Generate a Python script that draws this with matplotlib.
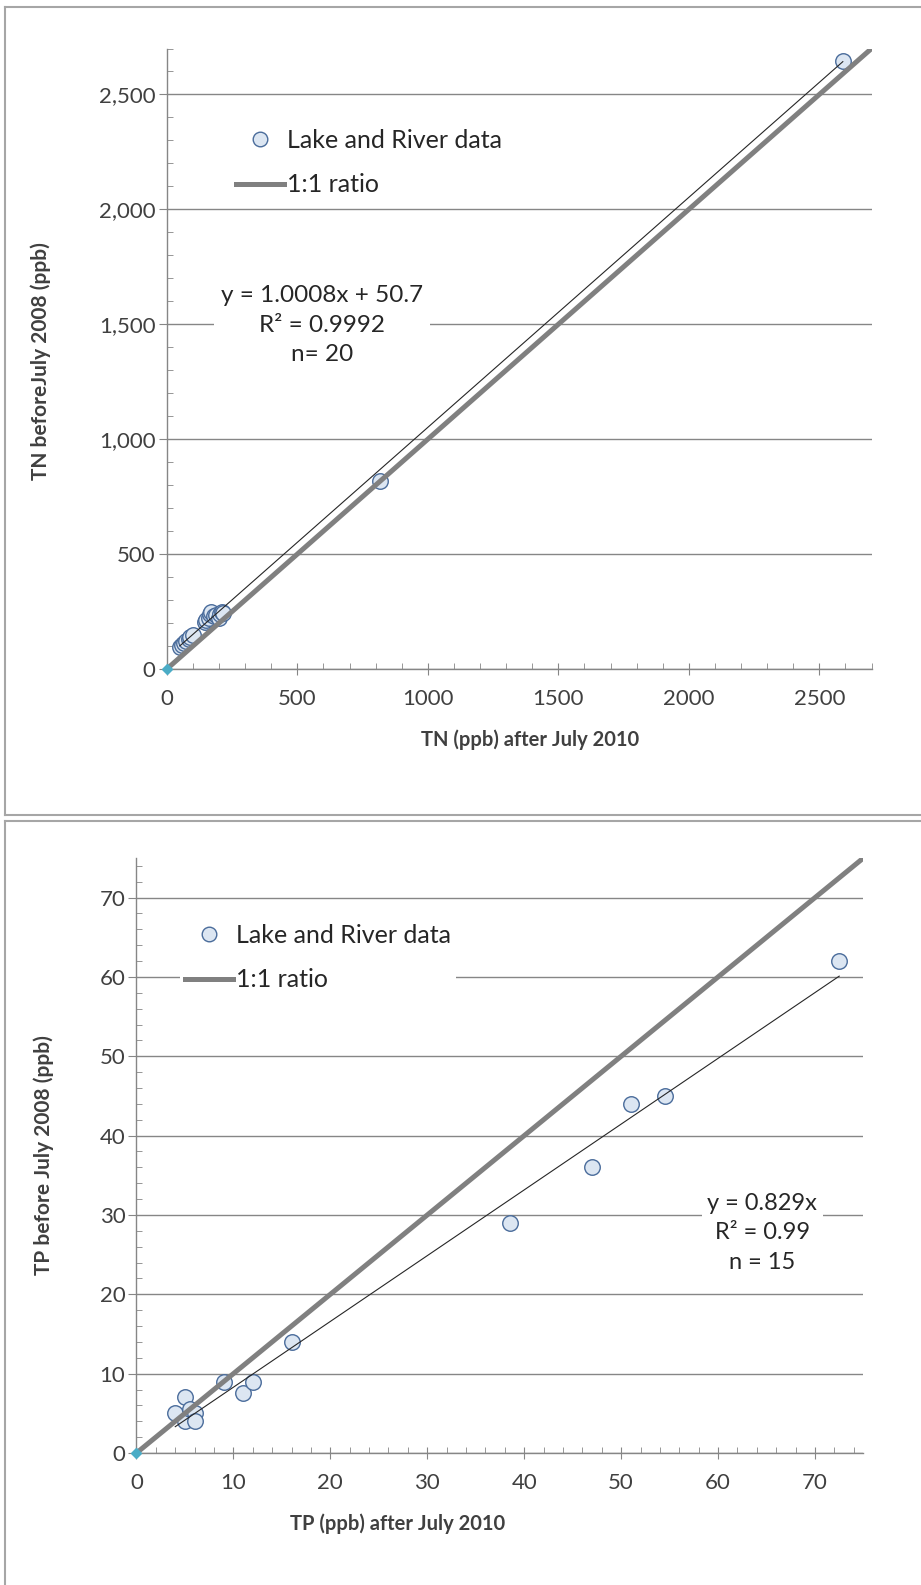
import matplotlib.pyplot as plt
import numpy as np
from matplotlib.lines import Line2D
from matplotlib.ticker import MultipleLocator, FuncFormatter

plt.rcParams['font.family'] = ['Lato', 'DejaVu Sans']

# TN chart data (ppb)
tn_after = [50, 60, 65, 75, 85, 90, 100, 145, 150, 160, 165, 170, 180, 190, 200, 205, 210, 215, 815, 2590]
tn_before = [95, 105, 115, 120, 130, 140, 150, 205, 215, 220, 240, 250, 230, 235, 220, 240, 250, 245, 820, 2645]
tn_slope, tn_icpt = 1.0008, 50.7
tn_ticks_x = [0, 500, 1000, 1500, 2000, 2500]
tn_ticks_y = [0, 500, 1000, 1500, 2000, 2500]

# TP chart data (ppb)
tp_after = [4, 5, 5, 5.5, 6, 6, 9, 11, 12, 16, 38.5, 47, 51, 54.5, 72.5]
tp_before = [5, 7, 4, 5.5, 5, 4, 9, 7.5, 9, 14, 29, 36, 44, 45, 62]
tp_slope = 0.829
tp_ticks = [0, 10, 20, 30, 40, 50, 60, 70]

origin = [0]

W, H = 921, 1585
fig = plt.figure(figsize=(W / 100, H / 100), dpi=100)

grey = '#868686'
txt = '#404040'


# panel borders: only top, left, bottom edges show (pixel coords)
def px_line(x0, y0, x1, y1):
    fig.lines.append(Line2D([x0 / W, x1 / W], [1 - y0 / H, 1 - y1 / H], transform=fig.transFigure,
                            color='#a6a6a6', lw=1.5))

px_line(5, 7, 921, 7)
px_line(5, 7, 5, 815)
px_line(5, 815, 921, 815)
px_line(5, 821, 921, 821)
px_line(5, 821, 5, 1585)


def style_axes(ax, xmax, ymax, minor, comma_y):
    ax.set_xlim(0, xmax)
    ax.set_ylim(0, ymax)
    for s in ['top', 'right']:
        ax.spines[s].set_visible(False)
    for s in ['left', 'bottom']:
        ax.spines[s].set_color(grey)
        ax.spines[s].set_linewidth(1)
    ax.xaxis.set_minor_locator(MultipleLocator(minor))
    ax.yaxis.set_minor_locator(MultipleLocator(minor))
    ax.tick_params(axis='x', which='major', direction='inout', length=9, color=grey, pad=10,
                   labelsize=16, labelcolor=txt)
    ax.tick_params(axis='x', which='minor', direction='in', length=4.5, color=grey)
    ax.tick_params(axis='y', which='major', direction='out', length=6, color=grey, pad=2,
                   labelsize=16, labelcolor=txt)
    ax.tick_params(axis='y', which='minor', direction='in', length=4.5, color=grey)
    if comma_y:
        ax.yaxis.set_major_formatter(FuncFormatter(lambda v, p: f'{int(v):,}'))
    ax.grid(axis='y', which='major', color=grey, lw=1)
    ax.set_axisbelow(True)


def legend(ax, x_px, y_px):
    handles = [
        Line2D([], [], ls='none', marker='o', ms=10.5, mfc='#dce6f2', mec='#4a6c9b', mew=1),
        Line2D([], [], color='#808080', lw=3.6),
    ]
    leg = ax.legend(handles, ['Lake and River data', '1:1 ratio'], loc='upper left',
                    bbox_to_anchor=(x_px / W, 1 - y_px / H), bbox_transform=fig.transFigure,
                    fontsize=18, handlelength=1.95, handletextpad=0.1, labelspacing=0.85,
                    borderpad=0.2, borderaxespad=0, frameon=True, fancybox=False)
    leg.get_frame().set_facecolor('white')
    leg.get_frame().set_edgecolor('none')
    leg.get_frame().set_alpha(1)
    for t in leg.get_texts():
        t.set_color('#262626')


# ---- TN ----
ax1 = fig.add_axes([0.1811, 0.5779, 0.7652, 0.3915])
style_axes(ax1, 2700, 2700, 100, True)
ax1.set_xticks(tn_ticks_x)
ax1.set_yticks(tn_ticks_y)
ax1.scatter(tn_after, tn_before, s=125, facecolor='#dce6f2', edgecolor='#4a6c9b', lw=1, zorder=3)
xx = np.array([0, 2700])
ax1.plot(xx, xx, color='#808080', lw=3.6, zorder=4, solid_capstyle='butt')
xf = np.array([min(tn_after), max(tn_after)])
ax1.plot(xf, tn_slope * xf + tn_icpt, color='#262626', lw=0.8, zorder=5)
ax1.plot(origin, origin, marker='D', ms=5, color='#4bacc6', ls='none', zorder=6, clip_on=False)
ax1.text(0.22, 0.554, 'y = 1.0008x + 50.7\nR\u00b2 = 0.9992\nn= 20', transform=ax1.transAxes,
         ha='center', va='center', fontsize=17.5, color='#262626', linespacing=1.5,
         bbox=dict(facecolor='white', edgecolor='none', pad=5), zorder=7)
legend(ax1, 230.5, 124)
fig.text(40.5 / W, 1 - 361 / H, 'TN beforeJuly 2008 (ppb)', rotation=90, ha='center', va='center',
         fontsize=15, fontweight='bold', color=txt)
fig.text(530 / W, 1 - 740 / H, 'TN (ppb) after July 2010', ha='center', va='center',
         fontsize=14.5, fontweight='bold', color=txt)

# ---- TP ----
ax2 = fig.add_axes([0.1482, 0.0833, 0.7893, 0.3754])
style_axes(ax2, 75, 75, 2, False)
ax2.set_xticks(tp_ticks)
ax2.set_yticks(tp_ticks)
ax2.scatter(tp_after, tp_before, s=125, facecolor='#dce6f2', edgecolor='#4a6c9b', lw=1, zorder=3)
xx = np.array([0, 75])
ax2.plot(xx, xx, color='#808080', lw=3.6, zorder=4, solid_capstyle='butt')
xf = np.array([min(tp_after), max(tp_after)])
ax2.plot(xf, tp_slope * xf, color='#262626', lw=0.8, zorder=5)
ax2.plot(origin, origin, marker='D', ms=5, color='#4bacc6', ls='none', zorder=6, clip_on=False)
ax2.text(0.861, 0.37, 'y = 0.829x\nR\u00b2 = 0.99\nn = 15', transform=ax2.transAxes,
         ha='center', va='center', fontsize=17, color='#262626', linespacing=1.5,
         bbox=dict(facecolor='white', edgecolor='none', pad=4), zorder=7)
legend(ax2, 179.5, 919)
fig.text(43.5 / W, 1 - 1155 / H, 'TP before July 2008 (ppb)', rotation=90, ha='center', va='center',
         fontsize=15, fontweight='bold', color=txt)
fig.text(398 / W, 1 - 1524 / H, 'TP (ppb) after July 2010', ha='center', va='center',
         fontsize=14.5, fontweight='bold', color=txt)

fig.savefig('out.png', dpi=100, facecolor='white')
